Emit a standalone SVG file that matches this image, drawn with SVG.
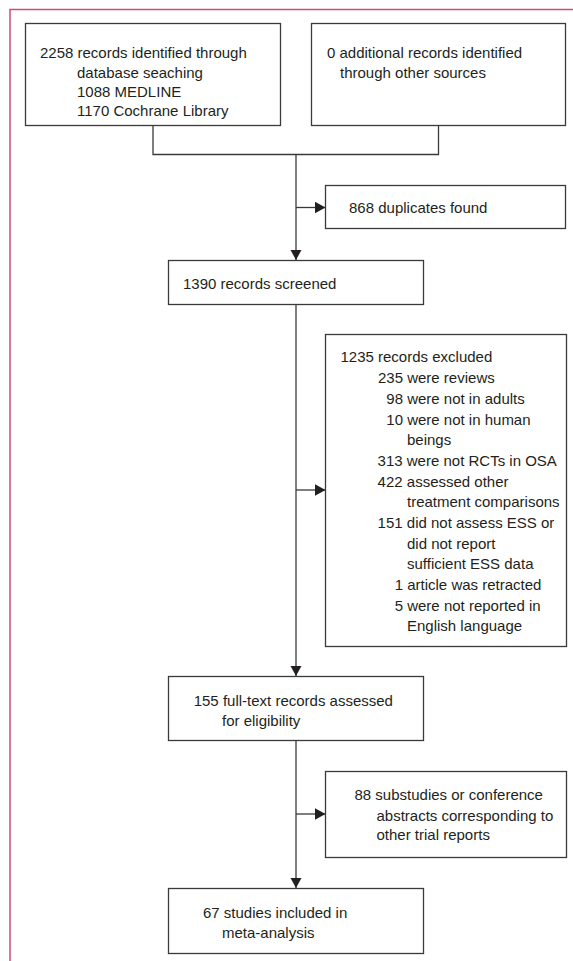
<svg xmlns="http://www.w3.org/2000/svg" width="573" height="961" viewBox="0 0 573 961">
<style>
.box{fill:#fff;stroke:#3a3a3a;stroke-width:1.3}
.ln{fill:none;stroke:#3a3a3a;stroke-width:1.3}
text{font-family:"Liberation Sans",Arial,sans-serif;font-size:15px;fill:#231f20}
</style>
<defs>
<marker id="ah" markerUnits="userSpaceOnUse" markerWidth="12" markerHeight="12" refX="10.5" refY="5.75" orient="auto">
<path d="M0,0 L10.5,5.75 L0,11.5 z" fill="#231f20"/>
</marker>
</defs>
<rect width="573" height="961" fill="#fff"/>
<path d="M10,961 V9.5 H573" fill="none" stroke="#d14b73" stroke-width="1.5"/>
<g id="connectors">
<path class="ln" d="M153,125.5 V154.5 H438.5 V125.5"/>
<path class="ln" d="M296,154.5 V260" marker-end="url(#ah)"/>
<path class="ln" d="M296,207.5 H325.5" marker-end="url(#ah)"/>
<path class="ln" d="M296,304.5 V676" marker-end="url(#ah)"/>
<path class="ln" d="M296,490 H325.5" marker-end="url(#ah)"/>
<path class="ln" d="M296,740.5 V888" marker-end="url(#ah)"/>
<path class="ln" d="M296,814 H325.5" marker-end="url(#ah)"/>
</g>
<g id="n1">
<rect class="box" x="25.5" y="23.5" width="255" height="102"/>
<text x="40" y="58">2258 records identified through</text>
<text x="77" y="78">database seaching</text>
<text x="77" y="97">1088 MEDLINE</text>
<text x="77" y="116">1170 Cochrane Library</text>
</g>
<g id="n2">
<rect class="box" x="311.5" y="23.5" width="254" height="102"/>
<text x="327" y="58">0 additional records identified</text>
<text x="340" y="78">through other sources</text>
</g>
<g id="n3">
<rect class="box" x="325.5" y="185.5" width="240" height="43"/>
<text x="349" y="213">868 duplicates found</text>
</g>
<g id="n4">
<rect class="box" x="168.5" y="260.5" width="255" height="44"/>
<text x="183" y="288.5">1390 records screened</text>
</g>
<g id="n5">
<rect class="box" x="325.5" y="334.5" width="241" height="312"/>
<text x="340.5" y="362">1235 records excluded</text>
<text x="378" y="383">235 were reviews</text>
<text x="386.3" y="404">98 were not in adults</text>
<text x="386.3" y="424.5">10 were not in human</text>
<text x="407" y="445">beings</text>
<text x="377.6" y="466">313 were not RCTs in OSA</text>
<text x="377.6" y="486.5">422 assessed other</text>
<text x="407" y="507">treatment comparisons</text>
<text x="377.6" y="528">151 did not assess ESS or</text>
<text x="407" y="548.5">did not report</text>
<text x="407" y="569">sufficient ESS data</text>
<text x="394.7" y="590">1 article was retracted</text>
<text x="394.7" y="610.5">5 were not reported in</text>
<text x="407" y="631">English language</text>
</g>
<g id="n6">
<rect class="box" x="168.5" y="676.5" width="255" height="64"/>
<text x="193.7" y="706">155 full-text records assessed</text>
<text x="222" y="726">for eligibility</text>
</g>
<g id="n7">
<rect class="box" x="325.5" y="771.5" width="241" height="86"/>
<text x="354.5" y="800">88 substudies or conference</text>
<text x="376.5" y="820.5">abstracts corresponding to</text>
<text x="376.5" y="840">other trial reports</text>
</g>
<g id="n8">
<rect class="box" x="168.5" y="888.5" width="255" height="65"/>
<text x="203" y="918">67 studies included in</text>
<text x="222" y="938">meta-analysis</text>
</g>
</svg>
